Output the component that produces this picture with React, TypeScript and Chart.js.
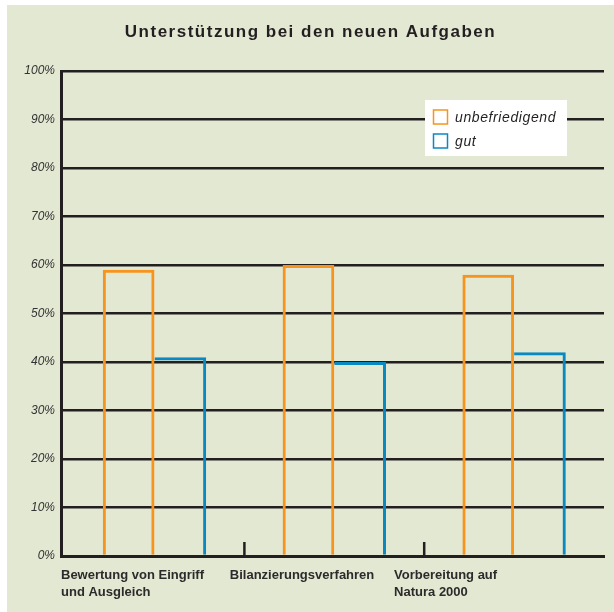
import React, { useEffect, useRef } from "react";
import { Chart, registerables } from "chart.js";

Chart.register(...registerables);

const chartTitle = "Unterstützung bei den neuen Aufgaben";
const categories: string[][] = [
  ["Bewertung von Eingriff", "und Ausgleich"],
  ["Bilanzierungsverfahren"],
  ["Vorbereitung auf", "Natura 2000"],
];
const seriesNames = ["unbefriedigend", "gut"];
const unbefriedigend = [59, 60, 58];
const gut = [41, 40, 42];
const yMin = 0;
const yMax = 100;
const yStep = 10;

const INK = "#231f20";
const ORANGE = "#f7941d";
const BLUE = "#0a88c2";
const BG = "#e3e8d2";
const FONT = "'Liberation Sans', Arial, Helvetica, sans-serif";
const labelShift = [-93.5, -104.5, -120];

const overlayPlugin = {
  id: "overlay",
  afterDraw(chart: any) {
    const ctx = chart.ctx;
    const area = chart.chartArea;
    const xs = chart.scales.x;
    ctx.save();
    // separators between categories
    ctx.strokeStyle = INK;
    ctx.lineWidth = 2.5;
    for (let i = 0; i < categories.length - 1; i++) {
      const x = xs.getPixelForValue(i + 0.5);
      ctx.beginPath();
      ctx.moveTo(x, area.bottom);
      ctx.lineTo(x, area.bottom - 14);
      ctx.stroke();
    }
    // title
    ctx.fillStyle = INK;
    ctx.font = `bold 17px ${FONT}`;
    (ctx as any).letterSpacing = "1.5px";
    ctx.textAlign = "center";
    ctx.textBaseline = "middle";
    ctx.fillText(chartTitle, chart.width / 2, 27);
    (ctx as any).letterSpacing = "0px";
    // category labels
    ctx.font = `bold 13px ${FONT}`;
    ctx.textAlign = "left";
    ctx.fillStyle = "#2b2b2b";
    categories.forEach((lines, i) => {
      const x = xs.getPixelForValue(i) + labelShift[i];
      lines.forEach((t, j) => {
        ctx.fillText(t, x, area.bottom + 19 + j * 17);
      });
    });
    // legend
    const bx = area.right - 179;
    const by = area.top + 29;
    ctx.fillStyle = "#ffffff";
    ctx.fillRect(bx, by, 142, 56);
    const cols = [ORANGE, BLUE];
    ctx.font = `italic 14px ${FONT}`;
    (ctx as any).letterSpacing = "0.6px";
    seriesNames.forEach((n, i) => {
      const cy = by + 17 + i * 24;
      ctx.strokeStyle = cols[i];
      ctx.lineWidth = 1.5;
      ctx.strokeRect(bx + 8.5, cy - 7, 14, 14);
      ctx.fillStyle = INK;
      ctx.fillText(n, bx + 30, cy + 1);
    });
    ctx.restore();
  },
};

export default function App() {
  const ref = useRef<HTMLCanvasElement>(null);
  useEffect(() => {
    if (!ref.current) return;
    const chart = new Chart(ref.current, {
      type: "bar",
      data: {
        datasets: [
          {
            label: seriesNames[0],
            data: unbefriedigend.map((v, i) => ({ x: i, y: v })),
            backgroundColor: "rgba(0,0,0,0)",
            borderColor: ORANGE,
            borderWidth: { top: 3, left: 3, right: 3, bottom: 0 },
            borderSkipped: false,
            categoryPercentage: 0.575,
            barPercentage: 1,
            inflateAmount: 0,
          },
          {
            label: seriesNames[1],
            data: gut.map((v, i) => ({ x: i, y: v })),
            backgroundColor: "rgba(0,0,0,0)",
            borderColor: BLUE,
            borderWidth: { top: 3, left: 0, right: 3, bottom: 0 },
            borderSkipped: false,
            categoryPercentage: 0.575,
            barPercentage: 1,
            inflateAmount: 0,
          },
        ],
      },
      options: {
        animation: false,
        responsive: false,
        layout: { padding: { top: 66, right: 10, bottom: 0, left: 0 } },
        plugins: {
          legend: { display: false },
          title: { display: false },
          tooltip: { enabled: false },
        },
        scales: {
          x: {
            type: "linear",
            offset: false,
            min: -0.52,
            max: 2.5,
            afterBuildTicks: (s: any) => {
              s.ticks = categories.map((_, i) => ({ value: i }));
            },
            afterFit: (s: any) => {
              s.height = 56;
            },
            ticks: { display: false },
            grid: { display: false },
            border: { display: true, color: INK, width: 3 },
          },
          y: {
            min: yMin,
            max: yMax,
            afterFit: (s: any) => {
              s.width = 54;
            },
            ticks: {
              stepSize: yStep,
              padding: 6,
              color: "#333333",
              font: { family: FONT, size: 12, style: "italic" },
              callback: (v: any) => `${v}%`,
            },
            grid: { color: INK, lineWidth: 2.5, drawTicks: false },
            border: { display: true, color: INK, width: 3 },
          },
        },
      },
      plugins: [overlayPlugin],
    });
    return () => chart.destroy();
  }, []);
  return (
    <div
      style={{
        position: "absolute",
        left: 7,
        top: 5,
        width: 607,
        height: 607,
        background: BG,
      }}
    >
      <canvas ref={ref} width={607} height={607} />
    </div>
  );
}
